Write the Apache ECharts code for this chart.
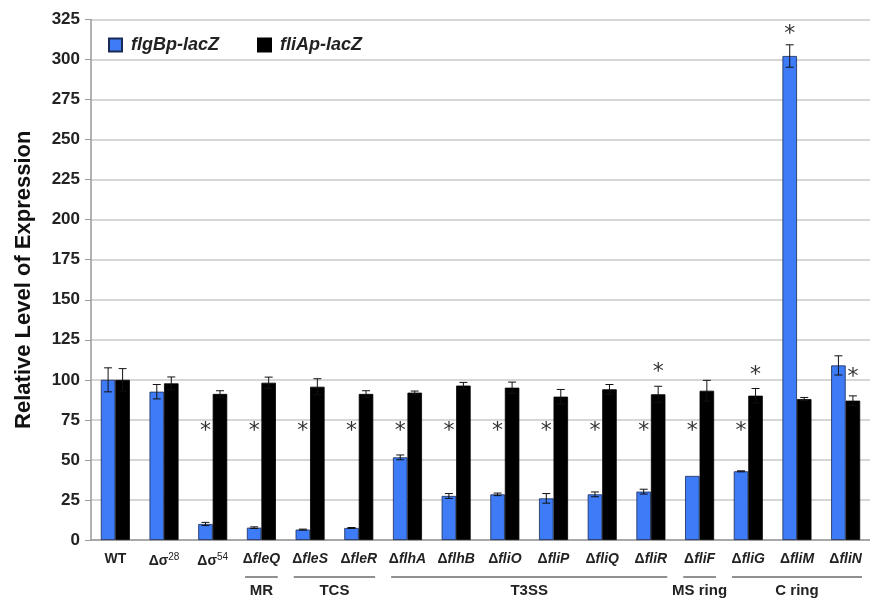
<!DOCTYPE html>
<html>
<head>
<meta charset="utf-8">
<script src="https://cdn.jsdelivr.net/npm/echarts@6/dist/echarts.min.js"></script>
<style>
  html, body { margin: 0; padding: 0; background: #fff; }
  #chart { width: 870px; height: 599px; }
</style>
</head>
<body>
<div id="chart"></div>
<script>
// strains (x axis)
var categories = ['WT', 'Δσ28', 'Δσ54', 'ΔfleQ', 'ΔfleS', 'ΔfleR', 'ΔflhA', 'ΔflhB',
  'ΔfliO', 'ΔfliP', 'ΔfliQ', 'ΔfliR', 'ΔfliF', 'ΔfliG', 'ΔfliM', 'ΔfliN'];
// flgBp-lacZ (blue)
var flgB = [100, 92.6, 10, 7.7, 6.5, 7.5, 51.6, 27.5, 28.5, 26, 28.5, 30.2, 40, 42.9, 302.2, 109];
var flgBErr = [7.5, 4.5, 1, 0.5, 0.3, 0.3, 1.5, 1.5, 0.8, 3, 1.5, 1.5, 0, 0.3, 7, 6];
// fliAp-lacZ (black)
var fliA = [100, 97.8, 91.2, 98.2, 95.7, 91.2, 92, 96.4, 95.1, 89.5, 94.1, 91, 93.2, 90.1, 88, 87];
var fliAErr = [7, 4, 2, 3.5, 5, 2, 1, 2, 3.5, 4.5, 3, 5, 6.5, 4.5, 1, 3];
// asterisk heights (null = none)
var flgBStar = [null, null, 70.7, 70.7, 70.7, 70.7, 70.7, 70.7, 70.7, 70.7, 70.7, 70.7, 70.7, 70.7, 319, null];
var fliAStar = [null, null, null, null, null, null, null, null, null, null, null, 107.6, null, 105.7, null, 105];
// gene groups under axis: [first index, last index, name]
var groups = [[3, 3, 'MR'], [4, 5, 'TCS'], [6, 11, 'T3SS'], [12, 12, 'MS ring'], [13, 15, 'C ring']];
var yTicks = [0, 25, 50, 75, 100, 125, 150, 175, 200, 225, 250, 275, 300, 325];

var BAR_W = 14.5;
var myChart = echarts.init(document.getElementById('chart'));

function errorItem(offset, errs) {
  return function (params, api) {
    var i = api.value(0), v = api.value(1), e = errs[i];
    if (!e) return null;
    var c = api.coord([i, v]);
    var top = api.coord([i, v + e])[1], bot = api.coord([i, v - e])[1];
    var x = c[0] + offset;
    var style = { stroke: '#111', lineWidth: 1 };
    return {
      type: 'group',
      children: [
        { type: 'line', shape: { x1: x, y1: top, x2: x, y2: bot }, style: style },
        { type: 'line', shape: { x1: x - 4, y1: top, x2: x + 4, y2: top }, style: style },
        { type: 'line', shape: { x1: x - 4, y1: bot, x2: x + 4, y2: bot }, style: style }
      ]
    };
  };
}

function starItem(offset) {
  return function (params, api) {
    var c = api.coord([api.value(0), api.value(1)]);
    return {
      type: 'text',
      style: { x: c[0] + offset, y: c[1] + 5, text: '*', fill: '#333',
        font: '22px "DejaVu Sans"', align: 'center', verticalAlign: 'middle' }
    };
  };
}

function indexed(arr) {
  var out = [];
  arr.forEach(function (v, i) { out.push([i, v]); });
  return out;
}

function labelFmt(v) {
  if (v === 'WT') return '{n|WT}';
  if (v.indexOf('σ') >= 0) return '{n|Δσ}{sup|' + v.slice(2) + '}';
  return '{n|Δ}{i|' + v.slice(1) + '}';
}

myChart.setOption({
  animation: false,
  textStyle: { fontFamily: 'Liberation Sans' },
  grid: { left: 91, right: -4, top: 19.5, bottom: 59 },
  legend: {
    left: 103, top: 31, itemWidth: 13, itemHeight: 13, itemGap: 38, icon: 'rect',
    data: ['flgBp-lacZ', 'fliAp-lacZ'],
    textStyle: { fontSize: 18, fontWeight: 'bold', fontStyle: 'italic', color: '#222', padding: [0, 0, 0, 4] }
  },
  xAxis: {
    type: 'category',
    data: categories,
    axisLine: { lineStyle: { color: '#999', width: 1.5 } },
    axisTick: { show: false },
    axisLabel: {
      margin: 12, interval: 0, formatter: labelFmt,
      rich: {
        n: { fontSize: 14, fontWeight: 'bold', color: '#222' },
        i: { fontSize: 14, fontWeight: 'bold', fontStyle: 'italic', color: '#222' },
        sup: { fontSize: 10, color: '#222', verticalAlign: 'top', padding: [0, 0, 8, 0] }
      }
    }
  },
  yAxis: {
    type: 'value', min: 0, max: 325, interval: 25,
    name: 'Relative Level of Expression', nameLocation: 'middle', nameGap: 56,
    nameTextStyle: { fontSize: 22, fontWeight: 'bold', color: '#111' },
    axisLine: { show: true, lineStyle: { color: '#999', width: 1.5 } },
    axisTick: { show: true, length: 6, lineStyle: { color: '#999' } },
    axisLabel: { fontSize: 17, fontWeight: 'bold', color: '#222', margin: 11,
      formatter: function (v) { return yTicks.indexOf(v) >= 0 ? v : ''; } },
    splitLine: { lineStyle: { color: '#c8c8c8', width: 1.5 } }
  },
  series: [
    {
      name: 'flgBp-lacZ', type: 'bar', data: flgB, barWidth: BAR_W, barGap: '0%',
      itemStyle: { color: '#3d7cf6', borderColor: '#1a2a55', borderWidth: 0.8 }
    },
    {
      name: 'fliAp-lacZ', type: 'bar', data: fliA, barWidth: BAR_W,
      itemStyle: { color: '#000', borderColor: '#000', borderWidth: 0.8 }
    },
    { type: 'custom', renderItem: errorItem(-BAR_W / 2, flgBErr), data: indexed(flgB), z: 5 },
    { type: 'custom', renderItem: errorItem(BAR_W / 2, fliAErr), data: indexed(fliA), z: 5 },
    { type: 'custom', renderItem: starItem(-BAR_W / 2), clip: false,
      data: indexed(flgBStar).filter(function (d) { return d[1] != null; }), z: 6 },
    { type: 'custom', renderItem: starItem(BAR_W / 2), clip: false,
      data: indexed(fliAStar).filter(function (d) { return d[1] != null; }), z: 6 },
    {
      type: 'custom', clip: false, silent: true,
      data: groups.map(function (g) { return [g[0], g[1]]; }),
      renderItem: function (params, api) {
        var g = groups[params.dataIndex];
        var a = api.coord([g[0], 0]), b = api.coord([g[1], 0]);
        var band = api.size([1, 0])[0];
        var x1 = a[0] - band / 2 + 8, x2 = b[0] + band / 2 - 8;
        var y = a[1] + 37;
        return {
          type: 'group',
          children: [
            { type: 'line', shape: { x1: x1, y1: y, x2: x2, y2: y },
              style: { stroke: '#222', lineWidth: 1.2 } },
            { type: 'text', style: { x: (x1 + x2) / 2, y: y + 14, text: g[2], fill: '#222',
              font: 'bold 15px "Liberation Sans"', align: 'center', verticalAlign: 'middle' } }
          ]
        };
      }
    }
  ]
});
</script>
</body>
</html>
